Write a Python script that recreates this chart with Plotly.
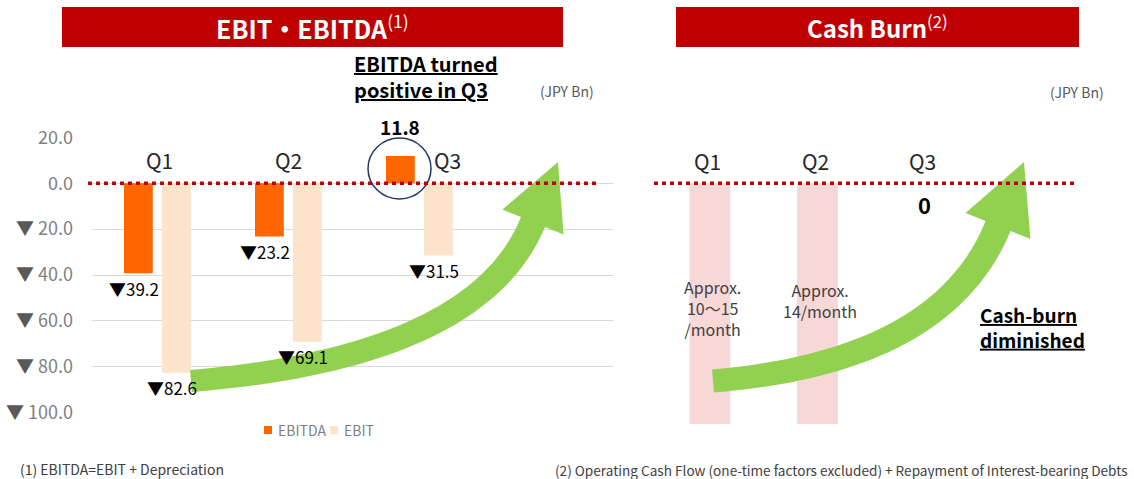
import plotly.graph_objects as go

W, H = 1134, 479

# ---- data -------------------------------------------------------------
quarters = ["Q1", "Q2", "Q3"]
ebitda = [-39.2, -23.2, 11.8]
ebit = [-82.6, -69.1, -31.5]
y_ticks = [20, 0, -20, -40, -60, -80, -100]

cash_quarters = ["Q1", "Q2"]
cash_burn_band = [-105, -105]          # illustrative band, no exact value given
cash_burn_text = ["Approx.<br>10〜15<br>/month", "Approx.<br>14/month"]
cash_burn_q3 = "0"

# ---- style ------------------------------------------------------------
FONT = "Noto Sans CJK JP, Roboto, sans-serif"
RED = "#C00000"
ORANGE = "#FF6600"
PEACH = "#FDE3CB"
PINK = "#F8D7D7"
GREEN = "#92D050"
NAVY = "#1F3864"


def px(x):
    return x / W


def py(y):
    return 1 - y / H


def tick_label(v):
    if v < 0:
        return f'<span style="color:#595959">▼</span> {abs(v):.1f}'
    return f"{v:.1f}"


def neg_label(v):
    return f"▼{abs(v):.1f}" if v < 0 else f"<b>{v:.1f}</b>"


def note(x, y, text, size, color="#404040", xanchor="center", **kw):
    # paper-positioned text, (x, y) given in page pixels
    return dict(x=px(x), y=py(y), xref="paper", yref="paper", showarrow=False,
                xanchor=xanchor, yanchor="middle", text=text,
                font=dict(size=size, color=color), **kw)


def arrow_path(tail, ctrl, base, tip, hw0, hw1, head_half, n=40):
    """Curved block arrow (quadratic bezier shaft + triangle head), pixel coords -> paper path."""
    upper, lower = [], []
    for i in range(n + 1):
        t = i / n
        bx = (1 - t) ** 2 * tail[0] + 2 * (1 - t) * t * ctrl[0] + t ** 2 * base[0]
        by = (1 - t) ** 2 * tail[1] + 2 * (1 - t) * t * ctrl[1] + t ** 2 * base[1]
        dx = 2 * (1 - t) * (ctrl[0] - tail[0]) + 2 * t * (base[0] - ctrl[0])
        dy = 2 * (1 - t) * (ctrl[1] - tail[1]) + 2 * t * (base[1] - ctrl[1])
        ln = (dx * dx + dy * dy) ** 0.5
        nx, ny = -dy / ln, dx / ln
        hw = hw0 + (hw1 - hw0) * t
        upper.append((bx - nx * hw, by - ny * hw))
        lower.append((bx + nx * hw, by + ny * hw))
    c1 = (base[0] - nx * head_half, base[1] - ny * head_half)
    c2 = (base[0] + nx * head_half, base[1] + ny * head_half)
    pts = upper + [c1, tip, c2] + lower[::-1]
    return "M " + " L ".join(f"{px(x):.5f},{py(y):.5f}" for x, y in pts) + " Z"


fig = go.Figure()

# ---- left panel: EBIT / EBITDA ----------------------------------------
fig.add_trace(go.Bar(
    name="EBITDA", x=quarters, y=ebitda, marker_color=ORANGE, marker_line_width=0,
    width=0.22, offset=-0.252, xaxis="x", yaxis="y", showlegend=False,
))
fig.add_trace(go.Bar(
    name="EBIT", x=quarters, y=ebit, marker_color=PEACH, marker_line_width=0,
    width=0.22, offset=0.038, xaxis="x", yaxis="y", showlegend=False,
))

# ---- right panel: cash burn -------------------------------------------
fig.add_trace(go.Bar(
    x=cash_quarters, y=cash_burn_band, marker_color=PINK, marker_line_width=0,
    width=0.38, offset=-0.19, xaxis="x2", yaxis="y2", showlegend=False,
))
# invisible trace so the Q3 slot exists on the category axis
fig.add_trace(go.Scatter(x=quarters, y=[None] * 3, xaxis="x2", yaxis="y2",
                         showlegend=False, hoverinfo="skip"))

annotations = []

# quarter labels
for i, q in enumerate(quarters):
    annotations.append(dict(x=i, y=0, xref="x", yref="y", text=q, showarrow=False,
                            yshift=23, xshift=[3, 1, 29][i], yanchor="middle",
                            font=dict(size=21, color="#262626")))
    annotations.append(dict(x=i, y=0, xref="x2", yref="y2", text=q, showarrow=False,
                            yshift=22, xshift=-2, yanchor="middle",
                            font=dict(size=21, color="#262626")))

# data labels
for i, v in enumerate(ebitda):
    if v < 0:
        annotations.append(dict(x=i - 0.142, y=v, xref="x", yref="y", text=neg_label(v),
                                showarrow=False, yshift=-15, xshift=-4, yanchor="middle",
                                font=dict(size=17, color="#000000")))
    else:
        annotations.append(dict(x=i - 0.142, y=v, xref="x", yref="y", text=neg_label(v),
                                showarrow=False, yanchor="bottom", yshift=14,
                                font=dict(size=19, color="#000000")))
for i, v in enumerate(ebit):
    annotations.append(dict(x=i + 0.148, y=v, xref="x", yref="y", text=neg_label(v),
                            showarrow=False, yshift=-15, xshift=-4, yanchor="middle",
                            font=dict(size=17, color="#000000")))

# cash burn texts
for (cx, cy), txt in zip([(712, 308), (820, 300)], cash_burn_text):
    annotations.append(note(cx, cy, txt, 16))
annotations.append(dict(x=2, y=0, xref="x2", yref="y2", text=f"<b>{cash_burn_q3}</b>",
                        showarrow=False, yshift=-21, yanchor="middle",
                        font=dict(size=22, color="#000000")))

# titles and notes
annotations += [
    note(312.5, 27, "<b>EBIT・EBITDA</b><sup>(1)</sup>", 25, "white"),
    note(877.5, 27, "<b>Cash Burn</b><sup>(2)</sup>", 24, "white"),
    note(352, 76, '<b><span style="text-decoration:underline">EBITDA turned</span></b><br>'
                  '<b><span style="text-decoration:underline">positive in Q3</span></b>',
         20, "#000000", xanchor="left", align="left"),
    note(978, 327, '<b><span style="text-decoration:underline">Cash-burn</span></b><br>'
                   '<b><span style="text-decoration:underline">diminished</span></b>',
         19, "#000000", xanchor="left", align="left"),
    note(567, 91, "(JPY Bn)", 14, "#595959"),
    note(1077, 92, "(JPY Bn)", 14, "#595959"),
    note(18, 469, "(1) EBITDA=EBIT + Depreciation", 14, xanchor="left"),
    note(1130, 470,
         "(2) Operating Cash Flow (one-time factors excluded) + Repayment of Interest-bearing Debts",
         13.6, xanchor="right"),
]

shapes = [
    dict(type="rect", xref="paper", yref="paper", x0=px(62), x1=px(563), y0=py(47), y1=py(7),
         fillcolor=RED, line_width=0, layer="below"),
    dict(type="rect", xref="paper", yref="paper", x0=px(676), x1=px(1079), y0=py(47), y1=py(7),
         fillcolor=RED, line_width=0, layer="below"),
    dict(type="path", xref="paper", yref="paper", fillcolor=GREEN, line_width=0,
         path=arrow_path((191, 381), (478, 357), (533, 222), (558, 162), 11, 13, 33)),
    dict(type="path", xref="paper", yref="paper", fillcolor=GREEN, line_width=0,
         path=arrow_path((713, 381), (943, 362), (998, 226), (1024, 162), 11.5, 13.5, 35)),
    dict(type="circle", xref="paper", yref="paper", x0=px(368), x1=px(431), y0=py(199), y1=py(138),
         line=dict(color=NAVY, width=1.5)),
    dict(type="line", xref="paper", yref="y", x0=px(88), x1=px(600), y0=0, y1=0,
         line=dict(color=RED, width=3.5, dash="4px,4px")),
    dict(type="line", xref="paper", yref="y2", x0=px(654), x1=px(1075), y0=0, y1=0,
         line=dict(color=RED, width=3.5, dash="4px,4px")),
]

# hand-drawn legend (small squares like the source)
for (sx, tx), tr in zip([(264, 276), (330, 342)], fig.data[:2]):
    shapes.append(dict(type="rect", xref="paper", yref="paper", x0=px(sx), x1=px(sx + 8),
                       y0=py(434), y1=py(426), fillcolor=tr.marker.color, line_width=0))
    annotations.append(note(tx, 430, tr.name, 14, "#7F7F7F", xanchor="left"))

fig.update_layout(
    template="none",
    width=W, height=H,
    margin=dict(l=0, r=0, t=0, b=0, pad=0, autoexpand=False),
    paper_bgcolor="white", plot_bgcolor="white",
    font=dict(family=FONT, color="#404040"),
    barmode="overlay",
    showlegend=False,
    xaxis=dict(domain=[px(92), px(613)], range=[-0.496, 3.481], type="category",
               showticklabels=False, showgrid=False, zeroline=False, showline=False,
               ticks="", anchor="y"),
    yaxis=dict(domain=[py(412.7), py(137.3)], range=[-100, 20], anchor="x",
               tickvals=y_ticks, ticktext=[tick_label(v) for v in y_ticks],
               tickfont=dict(size=18, color="#7F7F7F"), ticks="", ticklabelstandoff=18,
               showgrid=True, gridcolor="#D9D9D9", gridwidth=1, zeroline=False, showline=False),
    xaxis2=dict(domain=[px(650), px(1110)], range=[-0.558, 3.721], type="category",
                categoryorder="array", categoryarray=quarters,
                showticklabels=False, showgrid=False, zeroline=False, showline=False,
                ticks="", anchor="y2"),
    yaxis2=dict(domain=[py(424.2), py(137.3)], range=[-105, 20], anchor="x2",
                visible=False),
    annotations=annotations,
    shapes=shapes,
)

# the page body has a default 8px margin; drop it so the figure sits at the top-left corner
fig.write_html("out.html", config={"displayModeBar": False},
               post_script="document.body.style.margin='0px';")
